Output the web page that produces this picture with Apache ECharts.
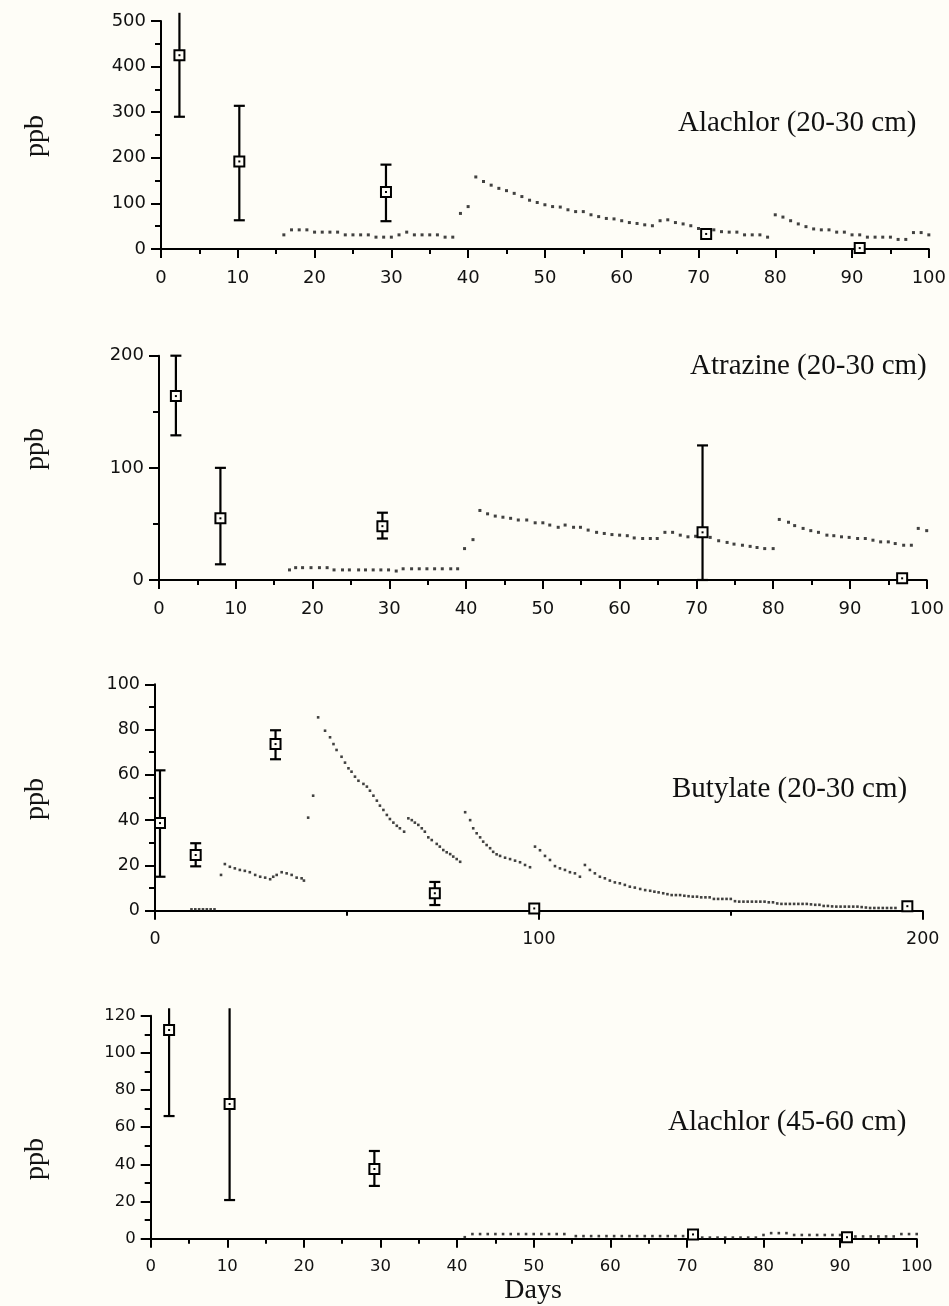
<!DOCTYPE html>
<html>
<head>
<meta charset="utf-8">
<script src="https://cdn.jsdelivr.net/npm/echarts@6/dist/echarts.min.js"></script>
<style>
html,body{margin:0;padding:0;background:#fefdf7;}
#chart{width:949px;height:1306px;}
</style>
</head>
<body>
<div id="chart"></div>
<script>
// ---------- DATA ----------
const titles = ['Alachlor (20-30 cm)', 'Atrazine (20-30 cm)', 'Butylate (20-30 cm)', 'Alachlor (45-60 cm)'];
const yAxisName = 'ppb';
const xAxisName = 'Days';

// Panel 1: Alachlor (20-30 cm) — measured (mean, low, high)
const ala1Days = [2.4, 10.2, 29.3, 71, 91];
const ala1Mean = [425, 192, 125, 33, 2];
const ala1Low  = [290, 63, 61, null, null];
const ala1High = [518, 314, 185, null, null];
// Panel 1 simulated (dotted)
const ala1SimDays = [16,17,18,19,20,21,22,23,24,25,26,27,28,29,30,31,32,33,34,35,36,37,38,39,40,41,42,43,44,45,46,47,48,49,50,51,52,53,54,55,56,57,58,59,60,61,62,63,64,65,66,67,68,69,70,72,73,74,75,76,77,78,79,80,81,82,83,84,85,86,87,88,89,90,91,92,93,94,95,96,97,98,99,100];
const ala1SimPpb  = [31,42,42,42,37,37,37,37,31,31,31,31,26,26,26,31,37,31,31,31,31,26,26,78,93,158,148,140,133,128,122,115,107,102,97,93,92,86,82,82,75,71,67,66,62,58,56,53,51,62,64,58,55,51,45,42,38,37,37,31,31,31,26,75,70,62,55,49,44,42,42,37,37,31,31,26,26,26,26,21,21,36,36,31];

// Panel 2: Atrazine (20-30 cm)
const atrDays = [2.2, 8.0, 29.1, 70.8, 96.8];
const atrMean = [164, 55, 48, 42.5, 1.5];
const atrLow  = [129, 14, 37, 0, null];
const atrHigh = [200, 100, 60, 120, null];
const atrSimDays = [17,17.8,18.7,19.8,20.9,21.9,22.8,23.9,24.8,26,26.9,27.9,28.9,29.9,30.9,31.8,32.9,33.9,34.9,35.9,36.9,38,38.9,39.8,40.9,41.8,42.8,43.8,44.8,45.8,46.8,47.9,49,50,50.9,52,52.9,54,54.9,55.9,57,58,59,60,61,61.9,63,64,64.9,65.9,66.9,67.9,68.9,69.9,71.8,72.9,74,74.9,76,77,77.9,78.9,80,80.8,82,82.8,83.9,84.9,85.9,87,87.9,88.9,89.9,91,92,93,94,95,95.9,97,98,98.9,100];
const atrSimPpb  = [9,11,11,11,11,11,9,9,9,9,9,9,9,9,8,10,10,10,10,10,10,10,10,28,36,62,59,57,56,55,53.5,53.5,51,51,49,47,49,47,47,44.5,42.5,41.5,40.5,40,39.5,37.5,37,37,37,42.5,42.5,40,38.5,39,38,35,33.5,32,31,30,29,28,28,54,51.5,48.5,46,44,42.5,40,39.5,38.5,38,37,37,35.5,34,34,32.5,31,31,46,44];

// Panel 3: Butylate (20-30 cm)
const butDays = [1.3, 10.6, 31.4, 72.9, 98.8, 196];
const butMean = [38.7, 24.6, 73.6, 7.7, 1, 2];
const butLow  = [15, 19.6, 66.9, 2.5, null, null];
const butHigh = [62, 29.8, 79.7, 12.7, null, null];
const butSimDays = [9.5,10.5,11.5,12.5,13.5,14.5,15.5,17.2,18.2,19.5,20.8,22.1,23.4,24.7,26.1,27.4,28.7,30,30.8,31.7,33,34.3,35.6,36.9,38.2,38.8,39.9,41.2,42.5,44.3,45.6,46.5,47.3,48.6,49.5,50.4,51.2,52.1,53,54.3,55.2,56,56.9,57.8,58.6,59.5,60.4,61.2,62.1,63,63.8,64.9,66,66.9,67.7,68.6,69.5,70.3,71.2,72.1,73.4,74.2,75.1,76,76.9,77.7,78.6,79.5,80.8,82.1,82.9,83.8,84.7,85.5,86.4,87.3,88.1,89,89.9,91.2,92.5,93.8,95.1,96.4,97.7,99,100.3,101.6,102.9,104.2,105.5,106.8,108.1,109.4,110.7,112,113.3,114.6,115.9,117.2,118.5,119.8,121.1,122.4,123.7,125,126.4,127.7,129,130.1,131.2,132.4,133.5,134.6,135.7,136.8,137.9,139,140.1,141.2,142.3,143.4,144.5,145.6,146.7,147.8,148.9,150,151.1,152.2,153.3,154.4,155.5,156.6,157.7,158.8,159.9,161,162.1,163.2,164.3,165.4,166.5,167.6,168.7,169.8,170.9,172,173.1,174.2,175.3,176.4,177.5,178.6,179.7,180.8,181.9,183,184.1,185.2,186.3,187.4,188.5,189.6,190.7,191.8,192.9];
const butSimPpb  = [0.6,0.6,0.6,0.6,0.6,0.6,0.6,15.8,20.6,19.4,18.7,18,17.6,17,15.8,15,14.6,13.9,15,15.8,17,16.5,15.8,14.6,14.3,13.3,41.1,50.8,85.4,79.5,76.6,73.6,71,68,65.4,62.9,61.4,59.2,57.4,56,54.8,53,50.8,48.6,46.4,44.5,42.3,40.5,38.9,37.5,36.4,34.9,40.8,40,38.9,37.9,36.4,34.9,32.4,31.2,29.5,28.3,26.8,25.8,25,23.9,22.8,21.6,43.5,40,36.4,34.2,32.4,30.5,29,27.6,26,24.9,24.2,23.4,22.8,22.1,21.4,20.2,19.2,28.3,26.7,24.2,22.4,19.7,18.7,18,17,16.5,15,20.2,18,16.5,15,14.3,13.3,12.5,12.1,11.4,10.6,10.2,9.6,9.1,8.8,8.4,8.1,7.7,7.3,6.9,6.9,6.9,6.6,6.4,6.2,6.2,5.9,5.9,5.9,5.2,5.2,5.2,5.2,5.2,4.2,4,4,4,4,4,4,4,3.7,3.7,3.2,3,3,3,3,3,3,3,2.8,2.6,2.6,2.1,2.1,1.9,1.8,1.8,1.8,1.8,1.8,1.8,1.6,1.4,1.2,1.2,1.2,1.2,1.2,1.2,1.2,1.2,1.2,1.2];

// Panel 4: Alachlor (45-60 cm)
const ala2Days = [2.4, 10.3, 29.2, 70.8, 90.9];
const ala2Mean = [112.3, 72.5, 37.5, 2.3, 0.8];
const ala2Low  = [66, 20.8, 28.4, null, null];
const ala2High = [124, 124, 47.2, null, null];
const ala2SimDays = [41,42,43,44,45,46,47,48,49,50,51,52,53,54,55.5,56.5,57.5,58.5,59.5,60.5,61.5,62.5,63.5,64.5,65.5,66.5,67.5,68.5,69.5,72,73,74,75,76,77,78,79,80,81,82,83,84,85,86,87,88,89,90,92,93,94,95,96,97,98,99,100];
const ala2SimPpb  = [0.8,2.5,2.5,2.5,2.5,2.5,2.5,2.5,2.5,2.5,2.5,2.5,2.5,2.5,1.4,1.4,1.4,1.4,1.4,1.4,1.4,1.4,1.4,1.4,1.4,1.4,1.4,1.4,1.4,0.6,0.6,0.6,0.6,0.6,0.6,0.6,0.6,2,3,3,3,2,2,2,2,2,2,2,1.2,1.2,1.2,1.2,1.2,1.2,2.5,2.5,2.5];

// axis ranges / ticks
const xMax = [100, 100, 200, 100];
const xInterval = [10, 10, 100, 10];
const yMax = [500, 200, 100, 120];
const yInterval = [100, 100, 20, 20];

// ---------- LAYOUT ----------
const BG = '#fefdf7';
const grids = [
  {left: 161, top: 21, width: 768, height: 228},
  {left: 159, top: 355.7, width: 767.7, height: 224.3},
  {left: 155, top: 684.3, width: 767.7, height: 226.4},
  {left: 150.7, top: 1015.7, width: 766, height: 223}
];
const tickFont = [18, 18, 17.5, 16.5];

const measured = [
  [ala1Days, ala1Mean, ala1Low, ala1High],
  [atrDays, atrMean, atrLow, atrHigh],
  [butDays, butMean, butLow, butHigh],
  [ala2Days, ala2Mean, ala2Low, ala2High]
];
const simulated = [
  [ala1SimDays, ala1SimPpb],
  [atrSimDays, atrSimPpb],
  [butSimDays, butSimPpb],
  [ala2SimDays, ala2SimPpb]
];
const simSize = [3, 3, 2.6, 2.6];

function axisCommon(fs) {
  return {
    type: 'value',
    axisLine: {show: true, onZero: false, lineStyle: {color: '#000', width: 2}},
    axisTick: {show: true, inside: false, length: 9, lineStyle: {color: '#000', width: 2}},
    minorTick: {show: true, splitNumber: 2, length: 5, lineStyle: {color: '#000', width: 2}},
    splitLine: {show: false},
    minorSplitLine: {show: false},
    axisLabel: {color: '#111', fontFamily: 'DejaVu Sans, Arial, sans-serif', fontSize: fs}
  };
}

const xAxes = [], yAxes = [], series = [];
for (let i = 0; i < 4; i++) {
  const xa = axisCommon(tickFont[i]);
  Object.assign(xa, {gridIndex: i, min: 0, max: xMax[i], interval: xInterval[i]});
  xa.axisLabel.margin = 20;
  xAxes.push(xa);
  const ya = axisCommon(tickFont[i]);
  Object.assign(ya, {gridIndex: i, min: 0, max: yMax[i], interval: yInterval[i]});
  ya.axisLabel.margin = 15;
  ya.axisTick.length = 10; ya.minorTick.length = 6;
  yAxes.push(ya);

  const sim = simulated[i];
  series.push({
    type: 'scatter', xAxisIndex: i, yAxisIndex: i, silent: true,
    symbol: 'rect', symbolSize: simSize[i],
    itemStyle: {color: '#111'},
    data: sim[0].map((d, k) => [d, sim[1][k]]),
    z: 3
  });

  const m = measured[i];
  series.push({
    type: 'custom', xAxisIndex: i, yAxisIndex: i, silent: true, clip: false,
    data: m[0].map((d, k) => [d, m[1][k], m[2][k] == null ? '-' : m[2][k], m[3][k] == null ? '-' : m[3][k]]),
    encode: {x: 0, y: 1},
    renderItem: function (params, api) {
      const x = api.value(0), y = api.value(1), lo = api.value(2), hi = api.value(3);
      const p = api.coord([x, y]);
      const children = [];
      const cap = 5.5;
      if (!isNaN(lo) && !isNaN(hi)) {
        const pl = api.coord([x, lo]), ph = api.coord([x, hi]);
        children.push({type: 'line', shape: {x1: p[0], y1: pl[1], x2: p[0], y2: ph[1]}, style: {stroke: '#000', lineWidth: 2.2}});
        children.push({type: 'line', shape: {x1: p[0] - cap, y1: pl[1], x2: p[0] + cap, y2: pl[1]}, style: {stroke: '#000', lineWidth: 2.2}});
        if (hi <= yMax[params.seriesIndex >> 1])
          children.push({type: 'line', shape: {x1: p[0] - cap, y1: ph[1], x2: p[0] + cap, y2: ph[1]}, style: {stroke: '#000', lineWidth: 2.2}});
      }
      const s = 10;
      children.push({type: 'rect', shape: {x: p[0] - s / 2, y: p[1] - s / 2, width: s, height: s}, style: {fill: BG, stroke: '#000', lineWidth: 2}});
      children.push({type: 'rect', shape: {x: p[0] - 1, y: p[1] - 1, width: 2, height: 2}, style: {fill: '#000'}});
      return {type: 'group', children: children};
    },
    z: 5
  });
}

const serif = 'Liberation Serif, Times New Roman, serif';
const titlePos = [[678, 123], [690, 366], [672, 789], [668, 1122]];
const ppbY = [136, 449, 799, 1159];
const graphics = [];
for (let i = 0; i < 4; i++) {
  graphics.push({type: 'text', x: titlePos[i][0], y: titlePos[i][1],
    style: {text: titles[i], font: '29px ' + serif, fill: '#111', align: 'left', verticalAlign: 'middle'}});
  graphics.push({type: 'text', x: 36, y: ppbY[i], rotation: Math.PI / 2,
    style: {text: yAxisName, font: '28px ' + serif, fill: '#111', align: 'center', verticalAlign: 'middle'}});
}
graphics.push({type: 'text', x: 533, y: 1291,
  style: {text: xAxisName, font: '28px ' + serif, fill: '#111', align: 'center', verticalAlign: 'middle'}});

const chart = echarts.init(document.getElementById('chart'), null, {renderer: 'canvas'});
chart.setOption({
  backgroundColor: BG,
  animation: false,
  grid: grids,
  xAxis: xAxes,
  yAxis: yAxes,
  series: series,
  graphic: graphics
});
</script>
</body>
</html>
